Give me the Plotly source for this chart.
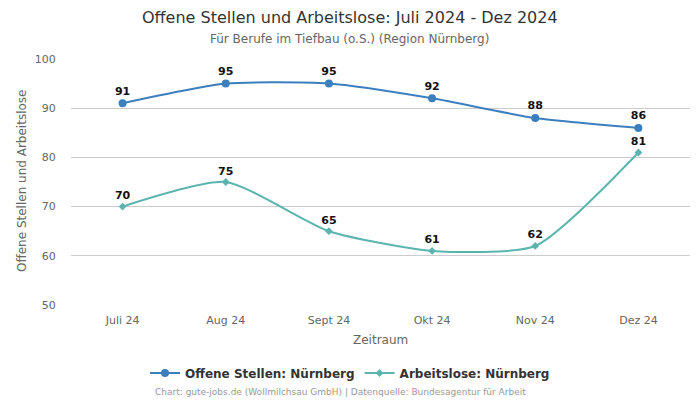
import plotly.graph_objects as go

categories = ["Juli 24", "Aug 24", "Sept 24", "Okt 24", "Nov 24", "Dez 24"]
offene_stellen = [91, 95, 95, 92, 88, 86]
arbeitslose = [70, 75, 65, 61, 62, 81]

FONT = "DejaVu Sans, Verdana, sans-serif"
BLUE = "#3b7fbf"
TEAL = "#5bb5ae"

W, H = 700, 400
ML, MR, MT, MB = 71, 10, 59, 95
plot_h = H - MT - MB
plot_w = W - ML - MR

def py(pix):
    return (H - MB - pix) / plot_h

def px(pix):
    return (pix - ML) / plot_w

fig = go.Figure()
fig.add_trace(go.Scatter(
    x=categories, y=offene_stellen, name="Offene Stellen: Nürnberg",
    mode="lines+markers+text", line=dict(color=BLUE, width=2, shape="spline", smoothing=0.6),
    marker=dict(symbol="circle", size=8, color=BLUE),
    text=[str(v) for v in offene_stellen], textposition="top center",
    textfont=dict(family=FONT, size=11, color="#111111", weight="bold"),
))
fig.add_trace(go.Scatter(
    x=categories, y=arbeitslose, name="Arbeitslose: Nürnberg",
    mode="lines+markers+text", line=dict(color=TEAL, width=2, shape="spline", smoothing=0.6),
    marker=dict(symbol="diamond", size=6, color=TEAL),
    text=[str(v) for v in arbeitslose], textposition="top center",
    textfont=dict(family=FONT, size=11, color="#111111", weight="bold"),
))

fig.update_layout(
    width=W, height=H,
    margin=dict(l=ML, r=MR, t=MT, b=MB, autoexpand=False),
    paper_bgcolor="white", plot_bgcolor="white",
    font=dict(family=FONT, color="#666666", size=11),
    showlegend=True,
    legend=dict(orientation="h", x=px(350), xanchor="center",
                y=py(373), yanchor="middle", itemwidth=30,
                font=dict(family=FONT, size=12, color="#333333", weight="bold")),
    xaxis=dict(range=[-0.5, 5.5], showgrid=False, showline=False, automargin=False,
               ticks="outside", ticklen=5, tickcolor="rgba(0,0,0,0)", tickangle=0,
               tickfont=dict(size=11, color="#666666")),
    yaxis=dict(range=[50, 100], dtick=10, showgrid=True, gridcolor="#cccccc", gridwidth=1,
               zeroline=False, showline=False, automargin=False,
               ticks="outside", ticklen=12, tickcolor="rgba(0,0,0,0)",
               tickfont=dict(size=11, color="#666666")),
    annotations=[
        dict(text="Offene Stellen und Arbeitslose: Juli 2024 - Dez 2024", x=px(350), y=py(17),
             xref="paper", yref="paper", yanchor="middle", showarrow=False,
             font=dict(family=FONT, size=16, color="#333333")),
        dict(text="Für Berufe im Tiefbau (o.S.) (Region Nürnberg)", x=px(349), y=py(39),
             xref="paper", yref="paper", yanchor="middle", showarrow=False,
             font=dict(family=FONT, size=12, color="#666666")),
        dict(text="Zeitraum", x=px(380), y=py(340),
             xref="paper", yref="paper", yanchor="middle", showarrow=False,
             font=dict(family=FONT, size=12, color="#666666")),
        dict(text="Offene Stellen und Arbeitslose", x=px(22), y=py(181), textangle=-90,
             xref="paper", yref="paper", xanchor="center", yanchor="middle", showarrow=False,
             font=dict(family=FONT, size=12, color="#666666")),
        dict(text="Chart: gute-jobs.de (Wollmilchsau GmbH) | Datenquelle: Bundesagentur für Arbeit",
             x=px(340), y=py(392), xref="paper", yref="paper", yanchor="middle", showarrow=False,
             font=dict(family=FONT, size=9, color="#999999")),
    ],
)

fig.write_html("out.html")
